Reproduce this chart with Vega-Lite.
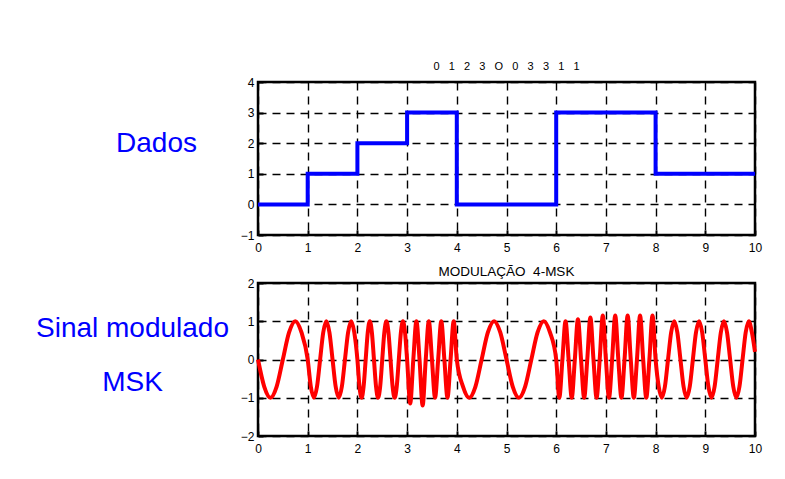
{
  "$schema": "https://vega.github.io/schema/vega-lite/v6.json",
  "background": "white",
  "padding": {"left": 34, "top": 59, "right": 26, "bottom": 20},
  "spacing": 8,
  "config": {
    "view": {"stroke": "black", "strokeWidth": 2.5},
    "font": "Liberation Sans",
    "axis": {
      "grid": true, "gridColor": "black", "gridDash": [8, 6], "gridWidth": 1.4,
      "domain": false, "ticks": true, "tickSize": -5, "tickWidth": 2, "tickColor": "black",
      "labelFont": "Liberation Sans", "labelFontSize": 12, "labelColor": "black",
      "labelPadding": 9, "labelFlush": false, "labelOverlap": false
    },
    "axisX": {"labelPadding": 12},
    "title": {"font": "Liberation Sans", "fontSize": 12, "fontWeight": "normal", "color": "black", "baseline": "alphabetic"}
  },
  "datasets": {
    "dados": [
      {"t": 0, "v": 0}, {"t": 1, "v": 1}, {"t": 2, "v": 2}, {"t": 3, "v": 3}, {"t": 4, "v": 0},
      {"t": 5, "v": 0}, {"t": 6, "v": 3}, {"t": 7, "v": 3}, {"t": 8, "v": 1}, {"t": 9, "v": 1}, {"t": 10, "v": 1}
    ],
    "sinal": [
      {"t": 0, "v": 0}, {"t": 0.125, "v": -0.707}, {"t": 0.25, "v": -1}, {"t": 0.375, "v": -0.707}, {"t": 0.5, "v": 0},
      {"t": 0.625, "v": 0.707}, {"t": 0.75, "v": 1}, {"t": 0.875, "v": 0.707}, {"t": 1, "v": 0},
      {"t": 1.0625, "v": -0.707}, {"t": 1.125, "v": -1}, {"t": 1.1875, "v": -0.707}, {"t": 1.25, "v": 0},
      {"t": 1.3125, "v": 0.707}, {"t": 1.375, "v": 1}, {"t": 1.4375, "v": 0.707}, {"t": 1.5, "v": 0},
      {"t": 1.5625, "v": -0.707}, {"t": 1.625, "v": -1}, {"t": 1.6875, "v": -0.707}, {"t": 1.75, "v": 0},
      {"t": 1.8125, "v": 0.707}, {"t": 1.875, "v": 1}, {"t": 1.9375, "v": 0.707}, {"t": 2, "v": 0},
      {"t": 2.0417, "v": -0.707}, {"t": 2.0833, "v": -1}, {"t": 2.125, "v": -0.707}, {"t": 2.1667, "v": 0},
      {"t": 2.2083, "v": 0.707}, {"t": 2.25, "v": 1}, {"t": 2.2917, "v": 0.707}, {"t": 2.3333, "v": 0},
      {"t": 2.375, "v": -0.707}, {"t": 2.4167, "v": -1}, {"t": 2.4583, "v": -0.707}, {"t": 2.5, "v": 0},
      {"t": 2.5417, "v": 0.707}, {"t": 2.5833, "v": 1}, {"t": 2.625, "v": 0.707}, {"t": 2.6667, "v": 0},
      {"t": 2.7083, "v": -0.707}, {"t": 2.75, "v": -1}, {"t": 2.7917, "v": -0.707}, {"t": 2.8333, "v": 0},
      {"t": 2.875, "v": 0.707}, {"t": 2.9167, "v": 1}, {"t": 2.9583, "v": 0.707}, {"t": 3, "v": 0},
      {"t": 3.0625, "v": -1.15}, {"t": 3.125, "v": 0}, {"t": 3.1875, "v": 1}, {"t": 3.25, "v": 0},
      {"t": 3.3125, "v": -1.2}, {"t": 3.375, "v": 0}, {"t": 3.4375, "v": 1}, {"t": 3.5, "v": 0},
      {"t": 3.5625, "v": -1}, {"t": 3.625, "v": 0}, {"t": 3.6875, "v": 1}, {"t": 3.75, "v": 0},
      {"t": 3.8125, "v": -1}, {"t": 3.875, "v": 0}, {"t": 3.9375, "v": 1}, {"t": 4, "v": 0},
      {"t": 4.125, "v": -0.707}, {"t": 4.25, "v": -1}, {"t": 4.375, "v": -0.707}, {"t": 4.5, "v": 0},
      {"t": 4.625, "v": 0.707}, {"t": 4.75, "v": 1}, {"t": 4.875, "v": 0.707}, {"t": 5, "v": 0},
      {"t": 5.125, "v": -0.707}, {"t": 5.25, "v": -1}, {"t": 5.375, "v": -0.707}, {"t": 5.5, "v": 0},
      {"t": 5.625, "v": 0.707}, {"t": 5.75, "v": 1}, {"t": 5.875, "v": 0.707}, {"t": 6, "v": 0},
      {"t": 6.0625, "v": -1}, {"t": 6.125, "v": 0}, {"t": 6.1875, "v": 1}, {"t": 6.25, "v": 0},
      {"t": 6.3125, "v": -1}, {"t": 6.375, "v": 0}, {"t": 6.4375, "v": 1.05}, {"t": 6.5, "v": 0},
      {"t": 6.5625, "v": -1}, {"t": 6.625, "v": 0}, {"t": 6.6875, "v": 1.1}, {"t": 6.75, "v": 0},
      {"t": 6.8125, "v": -1}, {"t": 6.875, "v": 0}, {"t": 6.9375, "v": 1.15}, {"t": 7, "v": 0},
      {"t": 7.0625, "v": -1}, {"t": 7.125, "v": 0}, {"t": 7.1875, "v": 1.15}, {"t": 7.25, "v": 0},
      {"t": 7.3125, "v": -1}, {"t": 7.375, "v": 0}, {"t": 7.4375, "v": 1.15}, {"t": 7.5, "v": 0},
      {"t": 7.5625, "v": -1}, {"t": 7.625, "v": 0}, {"t": 7.6875, "v": 1.15}, {"t": 7.75, "v": 0},
      {"t": 7.8125, "v": -1}, {"t": 7.875, "v": 0}, {"t": 7.9375, "v": 1.15}, {"t": 8, "v": 0},
      {"t": 8.0625, "v": -0.707}, {"t": 8.125, "v": -1}, {"t": 8.1875, "v": -0.707}, {"t": 8.25, "v": 0},
      {"t": 8.3125, "v": 0.707}, {"t": 8.375, "v": 1}, {"t": 8.4375, "v": 0.707}, {"t": 8.5, "v": 0},
      {"t": 8.5625, "v": -0.707}, {"t": 8.625, "v": -1}, {"t": 8.6875, "v": -0.707}, {"t": 8.75, "v": 0},
      {"t": 8.8125, "v": 0.707}, {"t": 8.875, "v": 1}, {"t": 8.9375, "v": 0.707}, {"t": 9, "v": 0},
      {"t": 9.0625, "v": -0.707}, {"t": 9.125, "v": -1}, {"t": 9.1875, "v": -0.707}, {"t": 9.25, "v": 0},
      {"t": 9.3125, "v": 0.707}, {"t": 9.375, "v": 1}, {"t": 9.4375, "v": 0.707}, {"t": 9.5, "v": 0},
      {"t": 9.5625, "v": -0.707}, {"t": 9.625, "v": -1}, {"t": 9.6875, "v": -0.707}, {"t": 9.75, "v": 0},
      {"t": 9.8125, "v": 0.707}, {"t": 9.875, "v": 1}, {"t": 9.9375, "v": 0.707}, {"t": 10, "v": 0.2}
    ]
  },
  "vconcat": [
    {
      "width": 497, "height": 153,
      "title": {"text": "0\u00a0\u00a0\u00a01\u00a0\u00a0\u00a02\u00a0\u00a0\u00a03\u00a0\u00a0\u00a0O\u00a0\u00a0\u00a00\u00a0\u00a0\u00a03\u00a0\u00a0\u00a03\u00a0\u00a0\u00a01\u00a0\u00a0\u00a01", "offset": 4, "fontSize": 11},
      "data": {"name": "dados"},
      "mark": {"type": "line", "interpolate": "step-after", "color": "#0000ff", "strokeWidth": 4},
      "encoding": {
        "x": {"field": "t", "type": "quantitative", "scale": {"domain": [0, 10], "nice": false},
              "axis": {"values": [0, 1, 2, 3, 4, 5, 6, 7, 8, 9, 10], "title": null}},
        "y": {"field": "v", "type": "quantitative", "scale": {"domain": [-1, 4], "nice": false},
              "axis": {"values": [-1, 0, 1, 2, 3, 4], "title": "Dados", "titleAngle": 0, "titleX": -102, "titleY": 61,
                       "titleAlign": "center", "titleBaseline": "middle", "titleFont": "Liberation Sans",
                       "titleFontSize": 28, "titleFontWeight": "normal", "titleColor": "#0000ff"}}
      }
    },
    {
      "width": 497, "height": 153,
      "title": {"text": "MODULAÇÃO\u00a0\u00a04-MSK", "offset": -1, "fontSize": 13.5},
      "data": {"name": "sinal"},
      "mark": {"type": "line", "interpolate": "monotone", "color": "#ff0000", "strokeWidth": 4},
      "encoding": {
        "x": {"field": "t", "type": "quantitative", "scale": {"domain": [0, 10], "nice": false},
              "axis": {"values": [0, 1, 2, 3, 4, 5, 6, 7, 8, 9, 10], "title": null}},
        "y": {"field": "v", "type": "quantitative", "scale": {"domain": [-2, 2], "nice": false},
              "axis": {"values": [-2, -1, 0, 1, 2], "title": ["Sinal modulado", "MSK"], "titleAngle": 0, "titleX": -126, "titleY": 45,
                       "titleAlign": "center", "titleBaseline": "middle", "titleLineHeight": 54, "titleFont": "Liberation Sans",
                       "titleFontSize": 28, "titleFontWeight": "normal", "titleColor": "#0000ff"}}
      }
    }
  ]
}
